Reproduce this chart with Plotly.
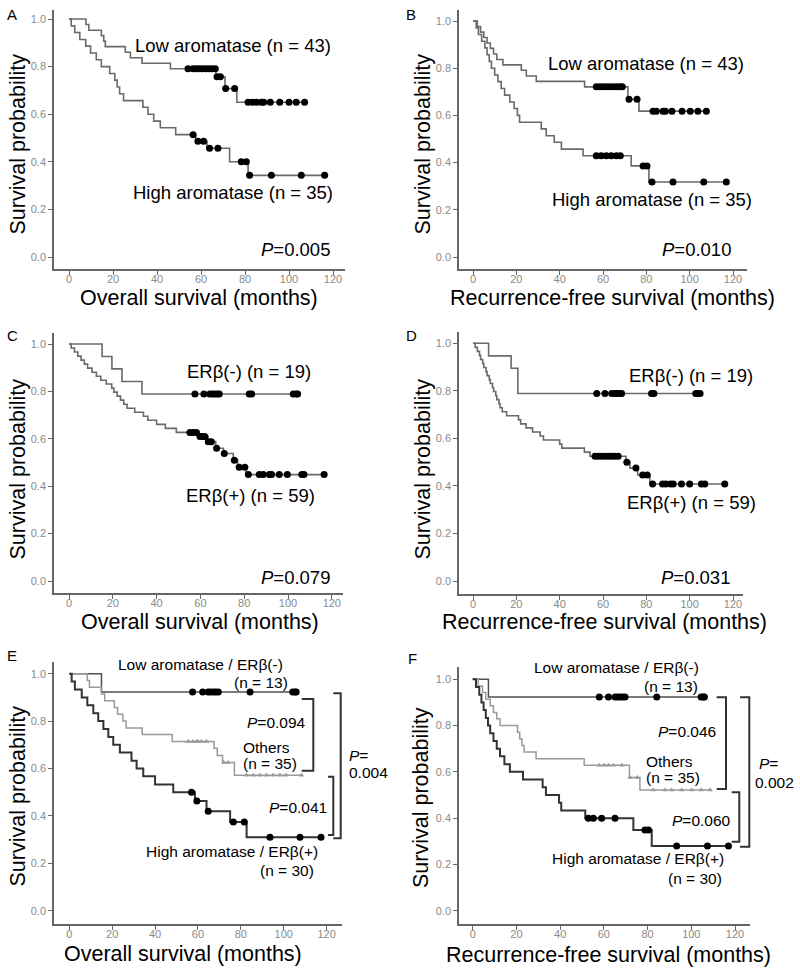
import plotly.graph_objects as go

W, H = 800, 968
FONT = "Arial, Liberation Sans, sans-serif"

# ---------------- DATA ----------------
# Panel A: overall survival by aromatase
A_low_t = [0, 7.7, 9.0, 14.7, 15.8, 16.5, 25.6, 27.9, 33.2, 46.1, 66.8, 70.9, 76.3]
A_low_s = [1, .977, .953, .930, .907, .884, .860, .837, .814, .791, .757, .708, .650]
A_low_c = [54.1, 56.4, 57.9, 59.1, 60.5, 62, 63.5, 65, 66.5, 67.3, 68.8, 71.2, 75.3,
           81.4, 83.3, 85.2, 87.4, 88.5, 91.5, 95.8, 100, 103.3, 107.1]
A_high_t = [0, 1, 2.6, 4.9, 7.6, 9.8, 12.4, 14.7, 18.5, 20.8, 21.9, 23, 24.8, 33.6, 35.9,
            38.5, 41.5, 48.5, 57.6, 62.7, 73, 81.4]
A_high_s = [1, .971, .943, .914, .886, .857, .829, .800, .771, .743, .714, .686, .657, .629,
            .600, .571, .543, .514, .486, .457, .400, .343]
A_high_c = [56.4, 58.6, 61.2, 63.9, 67.7, 78.3, 80.6, 82.1, 92, 105.6, 116.2]

# Panel B: recurrence-free survival by aromatase
B_low_t = [0, 2, 3.5, 5, 6.5, 8, 9.5, 11, 13.8, 22.3, 24.6, 29.2, 51.5, 71.5, 76.6]
B_low_s = [1, .977, .953, .930, .907, .884, .860, .837, .814, .791, .767, .744, .721, .668, .618]
B_low_c = [56.9, 58.5, 60, 61.5, 63.1, 64.6, 66.2, 67.7, 68.9, 72, 75.7, 83.1, 84.6, 87.7,
           88.8, 91.8, 96.5, 100.3, 103.8, 107.7]
B_high_t = [0, 1.5, 2.5, 4, 5.5, 6.5, 7.5, 8.5, 10, 11.5, 13, 14.6, 17, 19, 20.5, 21.5,
            31.5, 33.8, 37.5, 40.8, 50.8, 73, 81.2]
B_high_s = [1, .971, .943, .914, .886, .857, .829, .800, .771, .743, .714, .686, .657, .629,
            .600, .571, .543, .514, .486, .457, .429, .386, .318]
B_high_c = [56.9, 59.2, 61.5, 63.8, 66.2, 68, 78.5, 80.3, 82.6, 92.3, 106.5, 116.9]

# Panel C: overall survival by ERbeta
C_neg_t = [0, 15.1, 19.6, 24.2, 33.3]
C_neg_s = [1, .947, .895, .842, .789]
C_neg_c = [57.5, 61.6, 64.3, 65.5, 66.6, 67.7, 68.6, 82.3, 83.4, 102.4, 103.7, 104.4]
C_pos_t = [0, 1, 2.5, 4, 5.5, 7, 8.5, 10.5, 12.5, 14.5, 17, 19.5, 20.5, 22, 23.5, 25, 26.5,
           30, 34, 36, 40, 44, 49, 59, 63.5, 67, 70.5, 75, 77, 80.8]
C_pos_s = [1, .983, .966, .949, .932, .915, .898, .881, .864, .847, .831, .814, .797, .780,
           .763, .746, .729, .712, .695, .678, .661, .644, .627, .610, .588, .560, .538,
           .510, .480, .449]
C_pos_c = [55.2, 56.7, 58.2, 59.8, 60.8, 62, 63.6, 65, 67.4, 70.9, 75.5, 77.7, 80.3, 81.9,
           86.9, 88.7, 91.5, 92.5, 96, 99.7, 106.3, 107.3, 116.5]

# Panel D: recurrence-free survival by ERbeta
D_neg_t = [0, 7.2, 17.6, 20.7]
D_neg_s = [1, .947, .895, .789]
D_neg_c = [57.1, 60.9, 64, 65.5, 66.6, 67.8, 68.6, 82.4, 83.5, 102.8, 103.9, 104.8]
D_pos_t = [0, 1, 2, 3, 3.5, 4.5, 5, 6, 6.5, 7.5, 8, 9, 9.5, 10.5, 11, 12, 12.5, 13.5, 15.5,
           21, 22, 24.5, 27.5, 31, 32.5, 40, 41, 51.4, 54, 70.6, 72.4, 76, 81.6]
D_pos_s = [1, .983, .966, .949, .932, .915, .898, .881, .864, .847, .831, .814, .797, .780,
           .763, .746, .729, .712, .695, .678, .661, .644, .627, .610, .593, .576, .559,
           .542, .525, .500, .475, .446, .408]
D_pos_c = [56.3, 57.8, 59.4, 60.9, 62.5, 64, 65.5, 67, 71, 75.2, 78.3, 80.4, 82.9, 87.5, 89,
           91.1, 92.4, 96.2, 100, 105.4, 107, 116.2]

# Panel E: overall survival, combined groups
E_neg_t = [0, 15]
E_neg_s = [1, .923]
E_neg_c = [57.5, 62.2, 64.8, 65.9, 67.2, 68.3, 69.5, 84.3, 104.2, 105.3, 105.8]
E_oth_t = [0, 8.4, 9.4, 15, 16.5, 21, 22.5, 25, 26.5, 34, 48, 67.5, 69, 71.5, 77]
E_oth_s = [1, .971, .943, .914, .886, .857, .829, .800, .771, .743, .714, .685, .655, .625, .571]
E_oth_c = [55.5, 57.7, 59.3, 60.1, 61.6, 63.9, 72, 74, 82.7, 85.8, 88.9, 92, 95.1, 98.2,
           101, 108.3]
E_high_t = [0, 1.1, 2.6, 5.8, 8.4, 11.2, 13.5, 15.9, 18.2, 20.5, 23.6, 29, 31.4, 34.5, 40,
            48.5, 58.6, 64, 75, 82.7]
E_high_s = [1, .967, .933, .900, .867, .833, .800, .767, .733, .700, .667, .633, .600, .567,
            .533, .500, .463, .420, .374, .310]
E_high_c = [57, 59.5, 64.8, 76.5, 81.6, 93.6, 107.6, 117.4]

# Panel F: recurrence-free survival, combined groups
F_neg_t = [0, 7.2]
F_neg_s = [1, .923]
F_neg_c = [57.9, 62.1, 65.1, 66.2, 67.4, 68.5, 69.7, 84.2, 104.5, 105.5, 106]
F_oth_t = [0, 2.5, 4.5, 6, 8, 9.5, 11, 12.5, 20.5, 21.5, 22.5, 23.5, 29, 51, 71.7, 76.5]
F_oth_s = [1, .971, .943, .914, .886, .857, .829, .800, .771, .743, .714, .686, .657, .629,
           .576, .522]
F_oth_c = [57.8, 60.1, 62.1, 64.4, 68.2, 72, 75.3, 82.6, 88, 91, 95.6, 100.2, 104.5, 108.6]
F_high_t = [0, 1.5, 3, 4, 5, 6, 7, 8, 9.5, 11, 12.5, 14.5, 17, 23, 32, 33.5, 39.5, 40.5,
            51.5, 73.5, 81.9]
F_high_s = [1, .967, .933, .900, .867, .833, .800, .767, .733, .700, .667, .633, .600, .567,
            .533, .500, .467, .433, .400, .349, .280]
F_high_c = [52.9, 55.2, 59, 65.1, 78.8, 80.4, 93.3, 107.4, 117]

x_ticks = [0, 20, 40, 60, 80, 100, 120]
y_ticks = [0.0, 0.2, 0.4, 0.6, 0.8, 1.0]
OS_TITLE = "Overall survival (months)"
RFS_TITLE = "Recurrence-free survival (months)"
Y_TITLE = "Survival probability"

# ---------------- helpers ----------------
def px(x):
    return x / W


def py(y):
    return 1 - y / H


def surv_at(t_list, s_list, t):
    val = s_list[0]
    for ti, si in zip(t_list, s_list):
        if ti <= t:
            val = si
    return val


fig = go.Figure()
layout = dict(width=W, height=H, margin=dict(l=0, r=0, t=0, b=0),
              paper_bgcolor="white", plot_bgcolor="white", showlegend=False,
              font=dict(family=FONT, color="black"))
annotations = []
shapes = []

GRAY_LINE = "#6a6a6a"
DOT = dict(symbol="circle", size=7, color="black")
TRI = dict(symbol="triangle-up", size=5, color="#9a9a9a")


def add_curve(i, t, s, c, color, width, marker):
    end = max(c + [t[-1]])
    xs = list(t) + [end]
    ys = list(s) + [s[-1]]
    ax = "" if i == 1 else str(i)
    fig.add_trace(go.Scatter(x=xs, y=ys, mode="lines", line=dict(color=color, width=width, shape="hv"),
                             xaxis="x" + ax, yaxis="y" + ax, hoverinfo="skip"))
    fig.add_trace(go.Scatter(x=c, y=[surv_at(t, s, ci) for ci in c], mode="markers",
                             marker=marker, xaxis="x" + ax, yaxis="y" + ax, cliponaxis=False))


def setup_axes(i, L, R, T, B, zx, kx, zy, ky):
    x0 = (L - zx) / kx
    x1 = (R - zx) / kx
    y1 = (zy - T) / ky
    y0 = (zy - B) / ky
    ax = "" if i == 1 else str(i)
    common = dict(showgrid=False, zeroline=False, showline=True, linecolor="#666666", linewidth=1.5,
                  ticks="outside", ticklen=4, tickwidth=1.2, tickcolor="#666666",
                  tickfont=dict(size=11, color="#8a8a8a", family=FONT))
    layout["xaxis" + ax] = dict(domain=[px(L), px(R)], range=[x0, x1], anchor="y" + ax,
                                tickvals=x_ticks, ticklabelstandoff=-5, **common)
    layout["yaxis" + ax] = dict(domain=[py(B), py(T)], range=[y0, y1], anchor="x" + ax,
                                tickvals=y_ticks, tickformat=".1f", **common)


def text(x, y, s, size=18, xanchor="center", angle=0):
    annotations.append(dict(x=px(x), y=py(y), xref="paper", yref="paper", text=s, showarrow=False,
                            xanchor=xanchor, yanchor="middle", textangle=angle,
                            font=dict(size=size, family=FONT, color="black")))


def bracket(xl, xr, yt, yb):
    shapes.append(dict(type="path", xref="paper", yref="paper",
                       path=f"M {px(xl)} {py(yt)} L {px(xr)} {py(yt)} L {px(xr)} {py(yb)} L {px(xl)} {py(yb)}",
                       line=dict(color="#333333", width=2)))


# ---------------- Panel A ----------------
setup_axes(1, 54, 345, 10, 269, 69, 2.2, 257, 238)
add_curve(1, A_low_t, A_low_s, A_low_c, GRAY_LINE, 1.6, DOT)
add_curve(1, A_high_t, A_high_s, A_high_c, GRAY_LINE, 1.6, DOT)
text(12, 15, "A", 15)
text(17.5, 144, Y_TITLE, 21.5, angle=-90)
text(199, 298, OS_TITLE, 21.5)
text(233, 45, "Low aromatase (n = 43)", 18.5)
text(233, 193, "High aromatase (n = 35)", 18.5)
text(332, 250, "<i>P</i>=0.005", 18.5, xanchor="right")

# ---------------- Panel B ----------------
setup_axes(2, 459, 747, 10, 269, 473, 2.1667, 257, 236)
add_curve(2, B_low_t, B_low_s, B_low_c, GRAY_LINE, 1.6, DOT)
add_curve(2, B_high_t, B_high_s, B_high_c, GRAY_LINE, 1.6, DOT)
text(411, 15, "B", 15)
text(422.5, 144, Y_TITLE, 21.5, angle=-90)
text(612.5, 298, RFS_TITLE, 21.5)
text(645.5, 63, "Low aromatase (n = 43)", 18.5)
text(652, 200, "High aromatase (n = 35)", 18.5)
text(733, 250, "<i>P</i>=0.010", 18.5, xanchor="right")

# ---------------- Panel C ----------------
setup_axes(3, 54, 343, 333, 593, 69, 2.19, 581, 237)
add_curve(3, C_neg_t, C_neg_s, C_neg_c, GRAY_LINE, 1.6, DOT)
add_curve(3, C_pos_t, C_pos_s, C_pos_c, GRAY_LINE, 1.6, DOT)
text(12, 335, "C", 15)
text(17.5, 469, Y_TITLE, 21.5, angle=-90)
text(200, 622, OS_TITLE, 21.5)
text(249, 372, "ERβ(-) (n = 19)", 18.5)
text(250, 495, "ERβ(+) (n = 59)", 18.5)
text(332, 577, "<i>P</i>=0.079", 18.5, xanchor="right")

# ---------------- Panel D ----------------
setup_axes(4, 459, 743, 332, 594, 473, 2.1667, 581, 237.7)
add_curve(4, D_neg_t, D_neg_s, D_neg_c, GRAY_LINE, 1.6, DOT)
add_curve(4, D_pos_t, D_pos_s, D_pos_c, GRAY_LINE, 1.6, DOT)
text(411, 335, "D", 15)
text(422.5, 469, Y_TITLE, 21.5, angle=-90)
text(604, 622, RFS_TITLE, 21.5)
text(691, 375, "ERβ(-) (n = 19)", 18.5)
text(691, 502, "ERβ(+) (n = 59)", 18.5)
text(732, 577, "<i>P</i>=0.031", 18.5, xanchor="right")

# ---------------- Panel E ----------------
setup_axes(5, 54, 342, 662, 924, 69.3, 2.144, 910.7, 237)
add_curve(5, E_neg_t, E_neg_s, E_neg_c, "#505050", 1.5, DOT)
add_curve(5, E_oth_t, E_oth_s, E_oth_c, "#9a9a9a", 1.5, TRI)
add_curve(5, E_high_t, E_high_s, E_high_c, "#333333", 2, DOT)
text(12, 655, "E", 15)
text(17.5, 796, Y_TITLE, 21.5, angle=-90)
text(182.5, 954, OS_TITLE, 21.5)
text(200, 664, "Low aromatase / ERβ(-)", 15.5)
text(261, 682, "(n = 13)", 15.5)
text(308, 722, "<i>P</i>=0.094", 15.5, xanchor="right")
text(266, 747, "Others", 15.5)
text(270, 763, "(n = 35)", 15.5)
text(329, 807, "<i>P</i>=0.041", 15.5, xanchor="right")
text(232, 851, "High aromatase / ERβ(+)", 15.5)
text(287, 870, "(n = 30)", 15.5)
text(347, 755, "<i>P</i>=", 15.5, xanchor="left")
text(347, 772, "0.004", 15.5, xanchor="left")
bracket(301.7, 313.3, 699, 770.7)
bracket(328, 333.3, 776.7, 835)
bracket(333.3, 340.7, 693.3, 838.3)

# ---------------- Panel F ----------------
setup_axes(6, 459, 750, 667, 924, 472.7, 2.186, 910.7, 231.4)
add_curve(6, F_neg_t, F_neg_s, F_neg_c, "#505050", 1.5, DOT)
add_curve(6, F_oth_t, F_oth_s, F_oth_c, "#9a9a9a", 1.5, TRI)
add_curve(6, F_high_t, F_high_s, F_high_c, "#333333", 2, DOT)
text(412, 658, "F", 15)
text(421, 798, Y_TITLE, 21.5, angle=-90)
text(608, 955, RFS_TITLE, 21.5)
text(616, 667, "Low aromatase / ERβ(-)", 15.5)
text(671, 686, "(n = 13)", 15.5)
text(718, 731, "<i>P</i>=0.046", 15.5, xanchor="right")
text(669, 761, "Others", 15.5)
text(673, 777, "(n = 35)", 15.5)
text(733, 820, "<i>P</i>=0.060", 15.5, xanchor="right")
text(637.5, 858, "High aromatase / ERβ(+)", 15.5)
text(695, 878, "(n = 30)", 15.5)
text(757, 763, "<i>P</i>=", 15.5, xanchor="left")
text(753, 782, "0.002", 15.5, xanchor="left")
bracket(716.7, 726, 697.3, 789)
bracket(731.7, 739.3, 792.3, 841.7)
bracket(740, 749.3, 697.3, 846.7)

layout["annotations"] = annotations
layout["shapes"] = shapes
fig.update_layout(**layout)
fig.write_html("out.html", config={"displayModeBar": False},
               post_script="document.body.style.margin='0px';document.body.style.padding='0px';")
